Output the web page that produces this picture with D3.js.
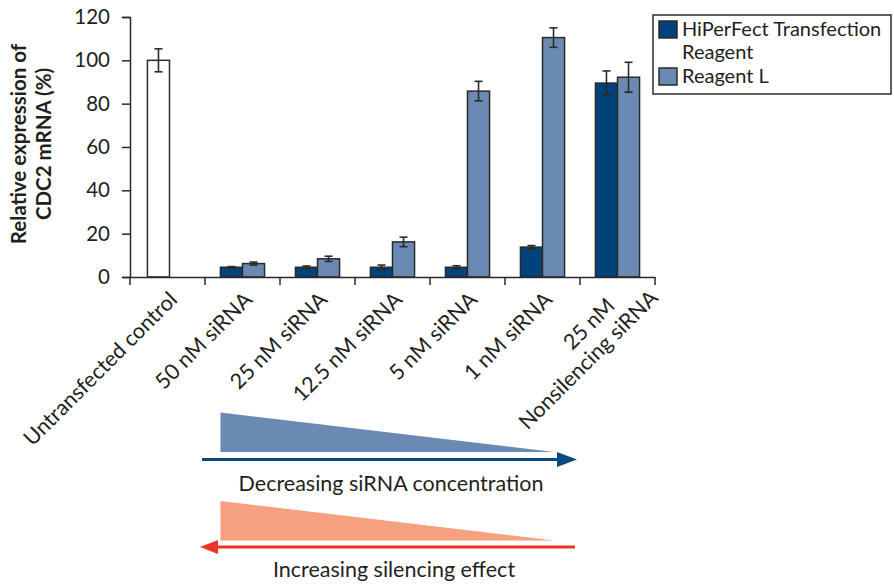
<!DOCTYPE html>
<html>
<head>
<meta charset="utf-8">
<script src="https://cdn.jsdelivr.net/npm/d3@7"></script>
<style>
  body { margin: 0; background: #fff; }
  text { font-family: Lato, "Noto Sans", sans-serif; fill: #231f20; }
</style>
</head>
<body>
<div id="chart"></div>
<script>
const categories = ["Untransfected control", "50 nM siRNA", "25 nM siRNA", "12.5 nM siRNA", "5 nM siRNA", "1 nM siRNA", "25 nM\nNonsilencing siRNA"];
const seriesNames = ["HiPerFect Transfection Reagent", "Reagent L"];
const control = { value: 100, err: 5.3 };
const hiperfect = [null, 4.5, 4.5, 4.5, 4.5, 13.8, 89.5];
const hiperfectErr = [null, 0.3, 0.6, 1.0, 0.7, 0.7, 5.6];
const reagentL = [null, 6.2, 8.4, 16.2, 85.8, 110.5, 92.2];
const reagentLErr = [null, 0.7, 1.2, 2.2, 4.5, 4.5, 6.9];
const yTicks = [0, 20, 40, 60, 80, 100, 120];

const width = 894, height = 585;
const margin = { top: 17, left: 130, right: 239, bottom: 308 };
const colors = ["#02427a", "#6a8ab4"];
const stroke = "#2a2a2a";

const svg = d3.select("#chart").append("svg")
  .attr("width", width).attr("height", height);

const x0 = d3.scaleBand()
  .domain(categories)
  .range([margin.left, width - margin.right]);

const x1 = d3.scaleBand()
  .domain(seriesNames)
  .range([0, x0.bandwidth()])
  .paddingOuter(0.7);

const y = d3.scaleLinear()
  .domain([0, 120])
  .range([height - margin.bottom, margin.top]);

// bars
const rows = [];
categories.forEach((c, i) => {
  if (i === 0) {
    rows.push({ cat: c, s: seriesNames[0], v: control.value, e: control.err, fill: "#ffffff", dx: 2 });
  } else {
    rows.push({ cat: c, s: seriesNames[0], v: hiperfect[i], e: hiperfectErr[i], fill: colors[0], dx: 0 });
    rows.push({ cat: c, s: seriesNames[1], v: reagentL[i], e: reagentLErr[i], fill: colors[1], dx: 0 });
  }
});

svg.append("g").selectAll("rect")
  .data(rows)
  .join("rect")
    .attr("x", d => x0(d.cat) + x1(d.s) + d.dx)
    .attr("y", d => y(d.v))
    .attr("width", x1.bandwidth())
    .attr("height", d => y(0) - y(d.v))
    .attr("fill", d => d.fill)
    .attr("stroke", stroke)
    .attr("stroke-width", 1.5);

// error bars
const eb = svg.append("g").attr("stroke", stroke).attr("stroke-width", 1.6);
rows.forEach(d => {
  const cx = x0(d.cat) + x1(d.s) + d.dx + x1.bandwidth() / 2;
  const cap = 4;
  eb.append("line").attr("x1", cx).attr("x2", cx).attr("y1", y(d.v + d.e)).attr("y2", y(d.v - d.e));
  eb.append("line").attr("x1", cx - cap).attr("x2", cx + cap).attr("y1", y(d.v + d.e)).attr("y2", y(d.v + d.e));
  eb.append("line").attr("x1", cx - cap).attr("x2", cx + cap).attr("y1", y(d.v - d.e)).attr("y2", y(d.v - d.e));
});

// y axis
const yAxis = svg.append("g")
  .attr("transform", `translate(${margin.left},0)`)
  .call(d3.axisLeft(y).tickValues(yTicks).tickSize(8).tickPadding(12));
yAxis.attr("font-family", null);
yAxis.selectAll("text").attr("font-size", "20.5px").attr("fill", "#231f20");
yAxis.selectAll("line,path").attr("stroke", stroke).attr("stroke-width", 1.5);

// x axis
const xAxis = svg.append("g")
  .attr("transform", `translate(0,${y(0)})`)
  .call(d3.axisBottom(x0).tickValues([]).tickSizeOuter(0));
xAxis.selectAll("path").attr("stroke", stroke).attr("stroke-width", 1.5);
const bounds = categories.map(c => x0(c)).concat([x0(categories[categories.length - 1]) + x0.bandwidth()]);
xAxis.selectAll(".tk")
  .data(bounds)
  .join("line")
    .attr("class", "tk")
    .attr("x1", d => d).attr("x2", d => d)
    .attr("y1", 0).attr("y2", 8)
    .attr("stroke", stroke).attr("stroke-width", 1.5);

// x labels
categories.forEach(c => {
  const g = svg.append("g")
    .attr("transform", `translate(${x0(c) + x0.bandwidth() / 2 + 11},${y(0) + 24}) rotate(-45)`);
  const lines = c.split("\n");
  if (lines.length === 1) {
    g.append("text").attr("text-anchor", "end").attr("font-size", "21.5px").text(c);
  } else {
    g.append("text").attr("text-anchor", "end").attr("font-size", "21.5px")
      .attr("x", -13).attr("y", -4.5).text(lines[0]);
    g.append("text").attr("text-anchor", "end").attr("font-size", "21.5px")
      .attr("x", 23).attr("y", 20.5).text(lines[1]);
  }
});

// y title
const yTitle = ["Relative expression of", "CDC2 mRNA (%)"];
yTitle.forEach((t, i) => {
  svg.append("text")
    .attr("transform", `translate(${26 + i * 25},${144}) rotate(-90)`)
    .attr("text-anchor", "middle")
    .attr("font-weight", "bold")
    .attr("font-size", "20.5px")
    .text(t);
});

// legend
const lg = svg.append("g").attr("transform", "translate(653,15)");
lg.append("rect").attr("width", 238).attr("height", 79)
  .attr("fill", "#fff").attr("stroke", stroke).attr("stroke-width", 1.5);
lg.append("rect").attr("x", 6).attr("y", 6).attr("width", 18).attr("height", 17)
  .attr("fill", colors[0]).attr("stroke", stroke).attr("stroke-width", 1.5);
lg.append("rect").attr("x", 6).attr("y", 53).attr("width", 18).attr("height", 17)
  .attr("fill", colors[1]).attr("stroke", stroke).attr("stroke-width", 1.5);
lg.append("text").attr("x", 29).attr("y", 21).attr("font-size", "20px").text("HiPerFect Transfection");
lg.append("text").attr("x", 29).attr("y", 44).attr("font-size", "20px").text("Reagent");
lg.append("text").attr("x", 29).attr("y", 68).attr("font-size", "20px").text(seriesNames[1]);

// concentration / silencing annotation
const xa = x0(categories[1]) + x1(seriesNames[0]);
const xb = x0(categories[5]) + x1(seriesNames[1]) + 12;
svg.append("path")
  .attr("d", `M${xa},412.5 L${xa},452 L${xb},452 Z`)
  .attr("fill", "#6a8ab4");
svg.append("line").attr("x1", 202).attr("x2", 560).attr("y1", 459.5).attr("y2", 459.5)
  .attr("stroke", "#0a4a80").attr("stroke-width", 3);
svg.append("path").attr("d", "M557,452 L577,459.5 L557,467 Z").attr("fill", "#0a4a80");
svg.append("text").attr("x", 391).attr("y", 491).attr("text-anchor", "middle")
  .attr("font-size", "21.5px").text("Decreasing siRNA concentration");

svg.append("path")
  .attr("d", `M${xa},501 L${xa},540.5 L${xb},540.5 Z`)
  .attr("fill", "#f5a07f");
svg.append("line").attr("x1", 215).attr("x2", 575).attr("y1", 547).attr("y2", 547)
  .attr("stroke", "#ec3426").attr("stroke-width", 3);
svg.append("path").attr("d", "M218,540 L200,547 L218,554 Z").attr("fill", "#ec3426");
svg.append("text").attr("x", 394).attr("y", 577).attr("text-anchor", "middle")
  .attr("font-size", "21.5px").text("Increasing silencing effect");
</script>
</body>
</html>
